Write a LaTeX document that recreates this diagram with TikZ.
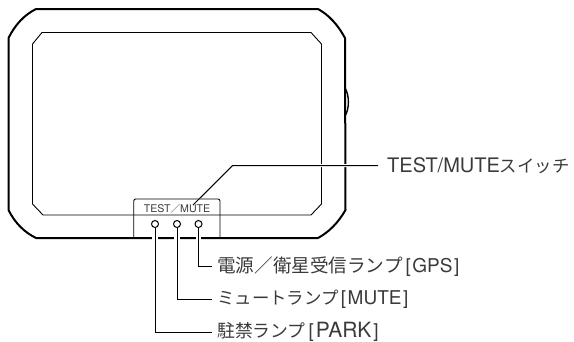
\documentclass[tikz,border=0pt]{standalone}
\usepackage{fontspec}
\setmainfont{TeX Gyre Heros}
\newfontfamily\jpfont{Noto Sans CJK JP}
\newcommand{\jptext}[2]{{\fontsize{#1}{20}\selectfont\jpfont #2}}
\definecolor{txt}{HTML}{3a3a3a}
\tikzset{
  bodyline/.style={line width=2pt,line join=round},
  thinline/.style={line width=0.9pt,line join=round},
  lamp/.style={circle,draw=black,line width=1pt,inner sep=0pt,minimum size=7pt,fill=white},
  callout/.style={anchor=west,inner sep=0pt,text=txt,font=\fontsize{19}{20}\selectfont},
  leader/.style={line width=1pt,line join=miter,preaction={draw=white,line width=5.5pt}},
  swleader/.style={line width=1pt,line join=miter,preaction={draw=white,line width=3pt}}
}
\begin{document}
\begin{tikzpicture}[x=1pt,y=-1pt]
\useasboundingbox (0,0) rectangle (574,341);
% side button
\draw[line width=1.4pt] (345,88) .. controls (349.5,95) and (349.5,109) .. (345,116);
% outer body
\draw[bodyline] (36,9) -- (318,9) .. controls (329,15) and (338,25) .. (345,38) -- (345.5,210)
  .. controls (338,223) and (329,232) .. (318,238) -- (36,238)
  .. controls (24,232) and (15,223) .. (8.5,210) -- (8.5,38)
  .. controls (15,25) and (24,15) .. (36,9) -- cycle;
% inner screen
\draw[thinline] (42,32.5) -- (311,32.5) -- (321.5,44) -- (321.5,204) -- (311,215) -- (43,215) -- (32.5,204) -- (32.5,44) -- cycle;
% lamps
\node[lamp] (park) at (155,224) {};
\node[lamp] (mute) at (177,224) {};
\node[lamp] (gps) at (198.5,224) {};
% labels
\node[callout] (lswitch) at (387,165.5) {\fontsize{20}{20}\selectfont TEST/MUTE\jptext{17.4}{スイッチ}};
\node[callout] (lgps) at (217,266.5) {\jptext{18.6}{電源／衛星受信ランプ}\kern3pt[\kern1.5pt GPS\kern1.5pt]};
\node[callout] (lmute) at (217,299) {\jptext{17.4}{ミュートランプ}\kern2.5pt[\kern1.5pt MUTE\kern1.5pt]};
\node[callout] (lpark) at (217,332) {\jptext{17.8}{駐禁ランプ}\kern3pt[\kern2pt\fontsize{21}{20}\selectfont PARK\kern2pt\fontsize{19}{20}\selectfont]};
\coordinate (swtip) at (193,205);
\coordinate (swbend) at (232.7,165.5);
% leaders
\draw[swleader] (lswitch.west) ++(-9,0) -- (swbend) -- (swtip);
\draw[leader] (park.south) |- ([xshift=-5pt]lpark.west);
\draw[leader] (mute.south) |- ([xshift=-5pt]lmute.west);
\draw[leader] (gps.south) |- ([xshift=-5pt]lgps.west);
% switch panel
\draw[thinline,rounded corners=2pt] (133.7,238) -- (133.7,199) -- (220,199) -- (220,238);
\node[inner sep=0pt,text=txt,font=\fontsize{10.6}{11}\selectfont] (ptext) at (177,208.5) {TEST\jptext{9.6}{／}MUTE};
\end{tikzpicture}
\end{document}
